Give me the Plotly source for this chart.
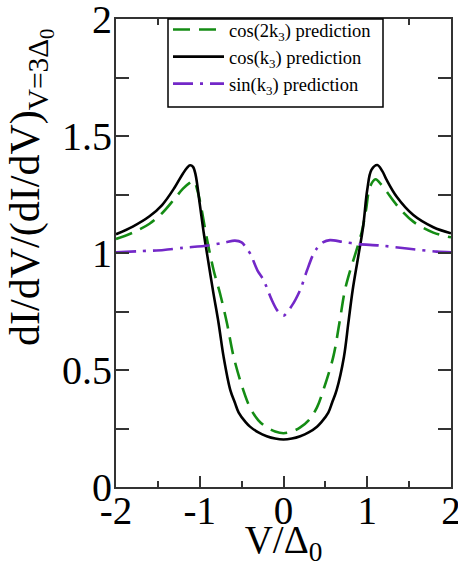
import plotly.graph_objects as go

# ---- data ----
x_cos2k = [-2.0, -1.8, -1.6, -1.45, -1.3, -1.2, -1.12, -1.07, -1.03, -0.98, -0.93, -0.88,
           -0.83, -0.76, -0.675, -0.595, -0.48, -0.4, -0.3, -0.2, -0.1, 0.0,
           0.1, 0.2, 0.3, 0.4, 0.476, 0.595, 0.667, 0.734, 0.80, 0.87, 0.934, 0.985,
           1.033, 1.10, 1.16, 1.232, 1.352, 1.55, 1.789, 2.0]
y_cos2k = [1.06, 1.087, 1.125, 1.17, 1.232, 1.275, 1.30, 1.308, 1.27, 1.19, 1.09, 1.00,
           0.92, 0.83, 0.70, 0.556, 0.414, 0.34, 0.285, 0.255, 0.237, 0.23,
           0.237, 0.255, 0.285, 0.34, 0.415, 0.557, 0.70, 0.842, 0.93, 1.01, 1.09, 1.184,
           1.283, 1.315, 1.295, 1.262, 1.205, 1.134, 1.087, 1.067]

x_cosk = [-2.0, -1.8, -1.6, -1.45, -1.3, -1.2, -1.15, -1.115, -1.08, -1.05, -1.0, -0.95,
          -0.91, -0.84, -0.775, -0.715, -0.635, -0.58, -0.535, -0.45, -0.4, -0.3, -0.2, -0.1, 0.0,
          0.1, 0.2, 0.3, 0.4, 0.45, 0.535, 0.58, 0.635, 0.722, 0.774, 0.826, 0.89, 0.95, 1.0, 1.05,
          1.12, 1.18, 1.232, 1.352, 1.55, 1.789, 2.0]
y_cosk = [1.08, 1.113, 1.157, 1.205, 1.28, 1.34, 1.365, 1.375, 1.368, 1.335, 1.21, 1.08,
          0.99, 0.835, 0.70, 0.556, 0.414, 0.36, 0.318, 0.276, 0.258, 0.233, 0.217, 0.207, 0.203,
          0.207, 0.217, 0.233, 0.258, 0.276, 0.318, 0.36, 0.415, 0.557, 0.70, 0.842, 0.98, 1.11, 1.27, 1.355,
          1.376, 1.35, 1.312, 1.24, 1.162, 1.11, 1.084]

x_sink = [-2.0, -1.7, -1.43, -1.2, -0.9, -0.7, -0.58, -0.5, -0.44, -0.395, -0.31,
          -0.236, -0.147, -0.075, 0.0, 0.1, 0.2, 0.28, 0.35, 0.4, 0.47, 0.555,
          0.7, 0.9, 1.15, 1.5, 1.83, 2.0]
y_sink = [1.003, 1.008, 1.013, 1.022, 1.032, 1.045, 1.053, 1.045, 1.02, 0.996, 0.925,
          0.883, 0.805, 0.755, 0.732, 0.775, 0.843, 0.925, 0.99, 1.02, 1.045, 1.055,
          1.048, 1.038, 1.032, 1.018, 1.006, 1.003]

x_ticks = [-2, -1, 0, 1, 2]
x_ticklabels = ["-2", "-1", "0", "1", "2"]
x_minor = [-1.5, -0.5, 0.5, 1.5]
y_ticks = [0, 0.5, 1, 1.5, 2]
y_ticklabels = ["0", "0.5", "1", "1.5", "2"]
y_minor = [0.25, 0.75, 1.25, 1.75]

SERIF = "Liberation Serif"
AXC = "#333333"

fig = go.Figure()
fig.add_trace(go.Scatter(x=x_cos2k, y=y_cos2k, mode="lines",
                         name="cos(2k<sub>3</sub>) prediction",
                         line=dict(color="rgb(20,140,20)", width=2.6, dash="17px,9px",
                                   shape="spline", smoothing=1.0)))
fig.add_trace(go.Scatter(x=x_cosk, y=y_cosk, mode="lines",
                         name="cos(k<sub>3</sub>) prediction",
                         line=dict(color="black", width=2.6, shape="spline", smoothing=1.0)))
fig.add_trace(go.Scatter(x=x_sink, y=y_sink, mode="lines",
                         name="sin(k<sub>3</sub>) prediction",
                         line=dict(color="rgb(115,40,200)", width=2.6, dash="20px,7px,3px,7px",
                                   shape="spline", smoothing=0.8)))

# legend frame (drawn as a shape so the entries can sit where the reference has them)
fig.add_shape(type="rect", xref="paper", yref="paper",
              x0=(168 - 116) / 335, x1=(383 - 116) / 335,
              y0=(487 - 107) / 468, y1=1.0,
              line=dict(color="black", width=1.5), fillcolor="white", layer="above")

fig.update_layout(
    width=458, height=567,
    margin=dict(l=116, r=7, t=19, b=80, autoexpand=False),
    paper_bgcolor="white", plot_bgcolor="white",
    font=dict(family=SERIF, color="black"),
    showlegend=True,
    legend=dict(x=(168 - 116) / 335, y=1 + 8 / 468, xanchor="left", yanchor="top",
                borderwidth=0, bgcolor="rgba(0,0,0,0)",
                font=dict(family=SERIF, size=18.5, color="black"),
                itemwidth=51, tracegroupgap=0),
    xaxis=dict(range=[-2, 2], tickvals=x_ticks, ticktext=x_ticklabels,
               ticks="inside", ticklen=11, tickwidth=1.5, tickcolor=AXC,
               minor=dict(tickvals=x_minor, ticks="inside", ticklen=6, tickwidth=1.5, tickcolor=AXC),
               showline=True, linecolor=AXC, linewidth=2, mirror="ticks",
               showgrid=False, zeroline=False, automargin=False,
               ticklabeloverflow="allow", ticklabelstandoff=-12,
               tickfont=dict(family=SERIF, size=39, color="black"),
               title=dict(text="V/Δ<sub>0</sub>", font=dict(family=SERIF, size=39, color="black"),
                          standoff=8)),
    yaxis=dict(range=[0, 2], tickvals=y_ticks, ticktext=y_ticklabels,
               ticks="inside", ticklen=13, tickwidth=1.5, tickcolor=AXC,
               minor=dict(tickvals=y_minor, ticks="inside", ticklen=13, tickwidth=1.5, tickcolor=AXC),
               showline=True, linecolor=AXC, linewidth=2, mirror="ticks",
               showgrid=False, zeroline=False, automargin=False,
               ticklabeloverflow="allow", ticklabelstandoff=-6,
               tickfont=dict(family=SERIF, size=40, color="black")),
)

fig.add_annotation(text="dI/dV/(dI/dV)<sub>V=3Δ<sub>0</sub></sub>",
                   xref="paper", yref="paper", x=-0.257, y=0.641,
                   xanchor="center", yanchor="middle", textangle=-90, showarrow=False,
                   font=dict(family=SERIF, size=42, color="black"))

fig.write_html("out.html", config={"displayModeBar": False},
               post_script="document.body.style.margin='0';document.body.style.overflow='hidden';")
